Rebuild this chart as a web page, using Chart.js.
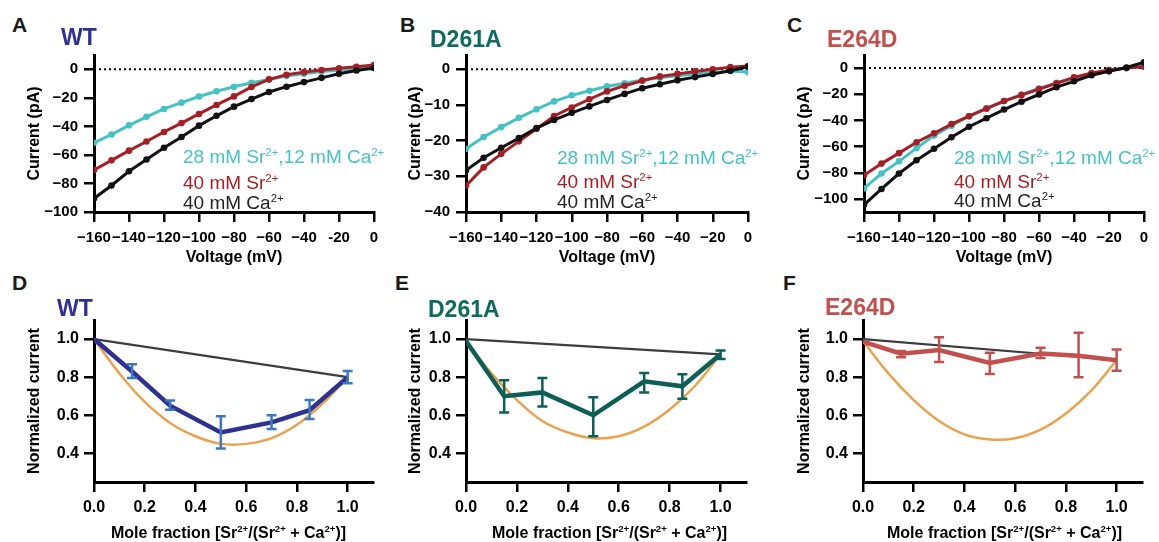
<!DOCTYPE html>
<html><head><meta charset="utf-8">
<script src="https://cdn.jsdelivr.net/npm/chart.js@4.4.0/dist/chart.umd.min.js"></script>
<style>
body{margin:0;width:1159px;height:542px;background:#fff;position:relative;overflow:hidden;font-family:"Liberation Sans",Arial,sans-serif;}
.box{position:absolute;}
.t{position:absolute;white-space:nowrap;}
sup{font-size:0.6em;vertical-align:0.62em;line-height:0;}
</style></head><body>
<script>
// ---------- data ----------
const voltages = [-160,-150,-140,-130,-120,-110,-100,-90,-80,-70,-60,-50,-40,-30,-20,-10,0];
const wtMix   = [-51.5,-45.7,-39.3,-33.3,-27.8,-23.4,-19.1,-15.4,-12.2,-9.4,-7.1,-4.8,-3.2,-1.6,-0.7,0.2,1.1];
const wtSr    = [-70.5,-63.8,-57,-50.6,-43.9,-37.7,-31.3,-25,-19,-12.4,-7.1,-3.9,-2,-0.5,0.7,1.8,3];
const wtCa    = [-90.5,-81.4,-71.5,-63.2,-55,-47.4,-39.5,-32.6,-26.2,-20.9,-15.9,-12.2,-9,-6,-3.2,-0.9,0.9];
const d261Mix = [-22.3,-19,-16.2,-13.6,-11.2,-9,-7.3,-6,-4.8,-3.9,-3,-2.4,-1.8,-1.3,-0.9,-0.5,-0.8];
const d261Sr  = [-32.6,-27.5,-23.7,-20.2,-16.7,-13.1,-10.7,-8.4,-6.2,-4.6,-3.2,-2,-1.3,-0.6,0,0.6,0.9];
const d261Ca  = [-28.3,-24.8,-22,-19.3,-16.5,-14.2,-12.2,-10.4,-8.6,-6.9,-5.3,-4.2,-3.1,-2.2,-1.3,-0.4,0.7];
const e264Mix = [-92,-80.6,-71.3,-61.2,-51.6,-44,-36.8,-30.7,-25.2,-20.2,-15.6,-11.3,-7.6,-4.3,-1.8,0,1.8];
const e264Sr  = [-81.9,-73,-65,-56.7,-49.9,-42.8,-36.8,-31,-25.2,-20.7,-16.1,-11.6,-7.1,-3.8,-1.5,0,1];
const e264Ca  = [-104.5,-92.4,-80.6,-70.5,-61.7,-52.9,-44.8,-38.3,-31.7,-25.7,-20.2,-14.6,-10.1,-5.5,-2.5,0.5,4.5];

const voltTicks = [-160,-140,-120,-100,-80,-60,-40,-20,0];
const voltLabelsA = ['−160','−140','−120','−100','−80','−60','−40','-20','0'];
const voltLabels  = ['−160','−140','−120','−100','−80','−60','−40','−20','0'];
const currTicksA = [-100,-80,-60,-40,-20,0];
const currLabelsA = ['−100','−80','−60','−40','−20','0'];
const currTicksB = [-40,-30,-20,-10,0];
const currLabelsB = ['−40','−30','−20','−10','0'];
const currTicksC = [-100,-80,-60,-40,-20,0];
const currLabelsC = ['−100','−80','−60','−40','−20','0'];

const moleFrac = [0,0.15,0.3,0.5,0.7,0.85,1.0];
const wtNorm     = [1.0,0.83,0.65,0.51,0.563,0.627,0.80];
const wtErrLow   = [null,0.796,0.629,0.426,0.528,0.58,0.768];
const wtErrHigh  = [null,0.868,0.678,0.595,0.60,0.68,0.833];
const d261Norm    = [0.99,0.70,0.72,0.60,0.778,0.752,0.92];
const d261ErrLow  = [null,0.615,0.646,0.49,0.72,0.687,0.896];
const d261ErrHigh = [null,0.784,0.796,0.695,0.822,0.815,0.94];
const e264Norm    = [0.986,0.923,0.942,0.875,0.924,0.912,0.889];
const e264ErrLow  = [null,0.905,0.88,0.817,0.901,0.80,0.834];
const e264ErrHigh = [null,0.937,1.01,0.928,0.954,1.033,0.945];

const fitX   = [0,0.1,0.2,0.3,0.4,0.5,0.6,0.7,0.8,0.9,1.0];
const wtFit   = [1.0,0.82,0.67,0.56,0.49,0.45,0.45,0.48,0.55,0.66,0.80];
const d261Fit = [0.99,0.82,0.68,0.57,0.51,0.48,0.49,0.54,0.63,0.755,0.92];
const e264Fit = [0.99,0.82,0.68,0.57,0.50,0.473,0.48,0.525,0.61,0.73,0.89];

const idealX = [0,1.0];
const wtIdeal   = [1.0,0.80];
const d261Ideal = [1.0,0.92];
const e264Ideal = [1.0,0.89];

const fracTicks = [0,0.2,0.4,0.6,0.8,1.0];
const fracLabels = ['0.0','0.2','0.4','0.6','0.8','1.0'];
const normTicks = [0.4,0.6,0.8,1.0];
const normLabels = ['0.4','0.6','0.8','1.0'];

// ---------- styles ----------
const FONT = '"Liberation Sans", Arial, sans-serif';
const CYAN = '#45c3c3', DRED = '#a61f26', BLK = '#111111';
const NAVY = '#2e3192', NAVYERR = '#3a78c0', TEAL = '#0c5f56', ROSE = '#c2504e', ORANGE = '#eaa24c', GRAY = '#3d3d3d';

const pts = (xs, ys) => xs.map((x,i)=>({x, y: ys[i]}));

const errorBars = {
  id:'errorBars',
  afterDatasetsDraw(chart){
    const {ctx} = chart; const x = chart.scales.x, y = chart.scales.y;
    chart.data.datasets.forEach(ds=>{
      if(!ds.errLow) return;
      ctx.save();
      ctx.strokeStyle = ds.errColor; ctx.lineWidth = 2.5; ctx.lineCap='butt';
      ds.data.forEach((p,j)=>{
        const lo = ds.errLow[j], hi = ds.errHigh[j];
        if(lo==null) return;
        const px = x.getPixelForValue(p.x), y1 = y.getPixelForValue(lo), y2 = y.getPixelForValue(hi);
        ctx.beginPath();
        ctx.moveTo(px,y1); ctx.lineTo(px,y2);
        ctx.moveTo(px-5,y1); ctx.lineTo(px+5,y1);
        ctx.moveTo(px-5,y2); ctx.lineTo(px+5,y2);
        ctx.stroke();
      });
      ctx.restore();
    });
  }
};

function axis(opts){
  const {min,max,ticks,labels,fs,title,size,horizontal,pad} = opts;
  return {
    type:'linear', min, max, offset:false,
    grid:{drawOnChartArea:false, drawTicks:true, tickLength:10, color:'#000', lineWidth:2.5},
    border:{display:true, color:'#000', width:3},
    ticks:{color:'#000', font:{family:FONT,size:fs,weight:'bold'}, autoSkip:false, maxRotation:0, padding:pad,
      callback:(v)=>{ const i = ticks.findIndex(t=>Math.abs(t-v)<1e-9); return i<0?'':labels[i]; }},
    afterBuildTicks:(s)=>{ s.ticks = ticks.map(v=>({value:v})); },
    afterFit: horizontal ? (s)=>{ s.height = size; } : (s)=>{ s.width = size; },
    title:{display:!!title, text:title||'', color:'#000', padding:0, font:{family:FONT,size:16,weight:'bold'}}
  };
}

function panel(b, datasets, xs, ys){
  const d = document.createElement('div');
  d.className='box';
  Object.assign(d.style,{left:b.x+'px',top:b.y+'px',width:b.w+'px',height:b.h+'px'});
  const c = document.createElement('canvas');
  d.appendChild(c); document.body.appendChild(d);
  new Chart(c,{
    type:'line',
    data:{datasets},
    options:{
      responsive:true, maintainAspectRatio:false, animation:false,
      layout:{padding:{top:b.pt,left:0,right:b.pr,bottom:0}},
      plugins:{legend:{display:false},tooltip:{enabled:false}},
      scales:{x:xs, y:ys}
    },
    plugins:[errorBars]
  });
}

function ivSets(mix, sr, ca){
  const line = (ys,col)=>({data:pts(voltages,ys), borderColor:col, backgroundColor:col, borderWidth:3,
    pointRadius:3.3, pointBorderWidth:0, pointBackgroundColor:col, tension:0});
  return [
    line(ca,BLK), line(sr,DRED), line(mix,CYAN),
    {data:[{x:-160,y:0},{x:0,y:0}], borderColor:'#000', borderWidth:2, borderDash:[2,3], pointRadius:0}
  ];
}
function mfSets(norm, lo, hi, col, errCol, fit, ideal){
  return [
    {data:pts(moleFrac,norm), borderColor:col, borderWidth:4.5, pointRadius:0, tension:0, errLow:lo, errHigh:hi, errColor:errCol},
    {data:pts(fitX,fit), borderColor:ORANGE, borderWidth:2.5, pointRadius:0, tension:0.4},
    {data:pts(idealX,ideal), borderColor:GRAY, borderWidth:2.2, pointRadius:0}
  ];
}

// Top row: chart area top 53, bottom 212
const topX = (labels)=>axis({min:-160,max:0,ticks:voltTicks,labels,fs:15,title:'Voltage (mV)',size:55,horizontal:true,pad:7});
panel({x:25,y:40,w:365,h:227,pt:13,pr:16}, ivSets(wtMix,wtSr,wtCa), topX(voltLabelsA),
  axis({min:-100,max:10,ticks:currTicksA,labels:currLabelsA,fs:15,title:'Current (pA)',size:69,pad:6}));
panel({x:406,y:40,w:358,h:227,pt:13,pr:16}, ivSets(d261Mix,d261Sr,d261Ca), topX(voltLabels),
  axis({min:-40,max:4,ticks:currTicksB,labels:currLabelsB,fs:15,title:'Current (pA)',size:60,pad:6}));
panel({x:795,y:40,w:363,h:227,pt:13,pr:14}, ivSets(e264Mix,e264Sr,e264Ca), topX(voltLabels),
  axis({min:-110,max:10,ticks:currTicksC,labels:currLabelsC,fs:15,title:'Current (pA)',size:69,pad:6}));

// Bottom row: chart area top 320, bottom 482
const botX = ()=>axis({min:0,max:1.1,ticks:fracTicks,labels:fracLabels,fs:16,title:'',size:60,horizontal:true,pad:6});
const botY = (w)=>axis({min:0.25,max:1.1,ticks:normTicks,labels:normLabels,fs:16,title:'Normalized current',size:w,pad:5});
panel({x:25,y:300,w:364,h:242,pt:20,pr:16}, mfSets(wtNorm,wtErrLow,wtErrHigh,NAVY,NAVYERR,wtFit,wtIdeal), botX(), botY(69));
panel({x:406,y:300,w:356,h:242,pt:20,pr:16}, mfSets(d261Norm,d261ErrLow,d261ErrHigh,TEAL,TEAL,d261Fit,d261Ideal), botX(), botY(60));
panel({x:795,y:300,w:362,h:242,pt:20,pr:15}, mfSets(e264Norm,e264ErrLow,e264ErrHigh,ROSE,ROSE,e264Fit,e264Ideal), botX(), botY(68));

// ---------- text overlays ----------
function text(html, x, baseline, fs, color, weight){
  const e = document.createElement('div');
  e.className='t';
  e.innerHTML = html;
  Object.assign(e.style,{left:x+'px', top:(baseline-0.8465*fs)+'px', fontSize:fs+'px', lineHeight:fs+'px',
    color, fontWeight:weight||'normal'});
  document.body.appendChild(e);
  return e;
}
// panel letters
text('A',12,32,21,'#1a1a1a','bold'); text('B',400,31.5,21,'#1a1a1a','bold'); text('C',787,31.5,21,'#1a1a1a','bold');
text('D',12,290,21,'#1a1a1a','bold'); text('E',395,290,21,'#1a1a1a','bold'); text('F',783,290,21,'#1a1a1a','bold');
// panel titles
text('WT',61,45,23,NAVY,'bold'); text('D261A',430,47.5,23,'#0e6b5d','bold'); text('E264D',827,47,23,ROSE,'bold');
text('WT',57,316,23,NAVY,'bold'); text('D261A',428,317,23,'#0e6b5d','bold'); text('E264D',825,315,23,ROSE,'bold');
// bottom x-axis titles (with superscripts)
const moleTitle = 'Mole fraction [Sr<sup>2+</sup>/(Sr<sup>2+</sup> + Ca<sup>2+</sup>)]';
[[111,539],[492,539],[887,539]].forEach(([x,b])=>text(moleTitle,x,b,16,'#000','bold'));
// IV legends
const legMix = '28 mM Sr<sup>2+</sup>,12 mM Ca<sup>2+</sup>', legSr = '40 mM Sr<sup>2+</sup>', legCa = '40 mM Ca<sup>2+</sup>';
[[183,163,189,209],[557,164,188,208],[954,164,188,207]].forEach(([x,b1,b2,b3])=>{
  text(legMix,x,b1,19,CYAN); text(legSr,x,b2,19,DRED); text(legCa,x,b3,19,'#222');
});
</script>
</body></html>
